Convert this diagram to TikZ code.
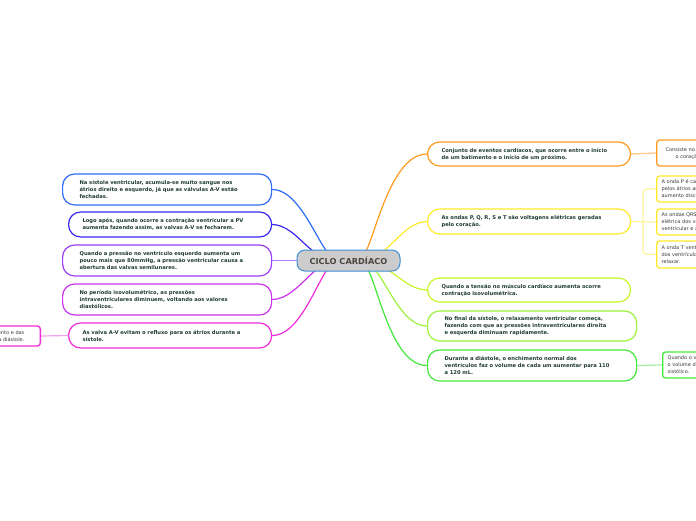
\documentclass[tikz,border=0pt]{standalone}
\usepackage{fontspec}
\setmainfont{DejaVu Sans}
\usetikzlibrary{calc,backgrounds}
\definecolor{txt}{HTML}{1F3B36}
\definecolor{subtxt}{HTML}{3A3A3A}
\definecolor{ctxt}{HTML}{4B4642}
\definecolor{cCenterB}{HTML}{3D8FD6}
\definecolor{cCenterF}{HTML}{CCCCCC}
\definecolor{cBlue}{HTML}{2F6CF5}
\definecolor{cIndigo}{HTML}{3B28F0}
\definecolor{cPurple}{HTML}{9B3DF5}
\definecolor{cPurpleL}{HTML}{AC80FF}
\definecolor{cViolet}{HTML}{CC33EE}
\definecolor{cMagenta}{HTML}{F02BD8}
\definecolor{cMagentaL}{HTML}{F5A0EC}
\definecolor{cOrange}{HTML}{FF9A1F}
\definecolor{cOrangeL}{HTML}{FFC68A}
\definecolor{cYellow}{HTML}{FFEA2A}
\definecolor{cYellowL}{HTML}{FFF3A0}
\definecolor{cLime}{HTML}{C8F52A}
\definecolor{cLGreen}{HTML}{9CF23A}
\definecolor{cGreen}{HTML}{43E83A}
\definecolor{cGreenL}{HTML}{A0F0A0}
\begin{document}
\begin{tikzpicture}[x=1pt,y=-1pt,
  branch/.style={draw, rounded corners=12pt, line width=1.2pt, fill=white,
    font=\bfseries\fontsize{5.2}{7}\selectfont, text=txt, align=left,
    inner ysep=0pt, anchor=west},
  subbox/.style={draw, rounded corners=3pt, line width=1.3pt, fill=white,
    font=\fontsize{5}{7}\selectfont, text=subtxt, align=left,
    inner ysep=0pt, inner xsep=5pt, anchor=west},
  conn/.style={line width=1.2pt},
  subconn/.style={line width=1.2pt}]
\useasboundingbox (0,0) rectangle (696,520);

% central node
\node[draw=cCenterB, fill=cCenterF, rounded corners=8pt, line width=1pt,
  minimum width=103pt, minimum height=21pt, inner sep=0pt,
  font=\bfseries\fontsize{8.2}{9}\selectfont, text=ctxt] (c) at (348.5,260.5) {CICLO CARDÍACO};

% left branches
\node[branch, draw=cBlue, inner xsep=17pt, text width=175pt, minimum height=31pt] (l1) at (62,189.5)
  {Na sístole ventricular, acumula-se muito sangue nos\\átrios direito e esquerdo, já que as válvulas A-V estão\\fechadas.};
\node[branch, draw=cIndigo, inner xsep=14pt, text width=175pt, minimum height=25pt] (l2) at (68,224.5)
  {Logo após, quando ocorre a contração ventricular a PV\\aumenta fazendo assim, as valvas A-V se fecharem.};
\node[branch, draw=cPurple, inner xsep=17pt, text width=175pt, minimum height=31pt] (l3) at (62,260.5)
  {Quando a pressão no ventrículo esquerdo aumenta um\\pouco mais que 80mmHg, a pressão ventricular causa a\\abertura das valvas semilunares.};
\node[branch, draw=cViolet, inner xsep=17pt, text width=175pt, minimum height=31pt] (l4) at (62,299.5)
  {No período isovolumétrico, as pressões\\intraventriculares diminuem, voltando aos valores\\diastólicos.};
\node[branch, draw=cMagenta, inner xsep=14pt, text width=175pt, minimum height=25pt] (l5) at (68,335.5)
  {As valva A-V evitam o refluxo para os átrios durante a\\sístole.};
\node[subbox, draw=cMagenta, anchor=east, align=right, inner xsep=16pt, text width=110pt, minimum height=20pt] (ls) at (41,336)
  {na fase de relaxamento e das\hspace*{6pt}\\dos ventrículos durante a diástole.};

% right branches
\node[branch, draw=cOrange, inner xsep=14pt, text width=175pt, minimum height=24pt] (r1) at (427,154)
  {Conjunto de eventos cardíacos, que ocorre entre o início\\de um batimento e o início de um próximo.};
\node[branch, draw=cYellow, inner xsep=14pt, text width=175pt, minimum height=25pt] (r2) at (427,221.5)
  {As ondas P, Q, R, S e T são voltagens elétricas geradas\\pelo coração.};
\node[branch, draw=cLime, inner xsep=14pt, text width=175pt, minimum height=24pt] (r3) at (427,290)
  {Quando a tensão no músculo cardíaco aumenta ocorre\\contração isovolumétrica.};
\node[branch, draw=cLGreen, inner xsep=17pt, text width=175pt, minimum height=30pt] (r4) at (427,326)
  {No final da sístole, o relaxamento ventricular começa,\\fazendo com que as pressões intraventriculares direita\\e esquerda diminuam rapidamente.};
\node[branch, draw=cGreen, inner xsep=17pt, text width=175pt, minimum height=31pt] (r5) at (427,365.5)
  {Durante a diástole, o enchimento normal dos\\ventrículos faz o volume de cada um aumentar para 110\\a 120 mL.};

% right sub nodes
\node[subbox, draw=cOrange, inner xsep=9pt, text width=100pt, minimum height=26pt] (os) at (656,153)
  {Consiste no período em que\\\hspace*{10pt}o coração contrai e relaxa.};
\node[subbox, draw=cYellow, text width=100pt, minimum height=26pt] (ya) at (656,189)
  {A onda P é causada por potenciais\\pelos átrios antes da contração\\aumento discreto da pressão.};
\node[subbox, draw=cYellow, text width=100pt, minimum height=26pt] (yb) at (656,222)
  {As ondas QRS surgem da atividade\\elétrica dos ventrículos e da\\ventricular e aumento da pressão.};
\node[subbox, draw=cYellow, text width=100pt, minimum height=27pt] (yc) at (656,254.5)
  {A onda T ventricular ocorre quando\\dos ventrículos começam a\\relaxar.};
\node[subbox, draw=cGreen, text width=100pt, minimum height=26pt] (gs) at (662,365)
  {Quando o ventrículo se contrai,\\o volume diminui até o volume\\sistólico.};

\begin{scope}[on background layer]
\fill[white] (0,0) rectangle (696,520);
% left connectors
\draw[conn, cBlue] ($(c.north)+(-5.5,2)$) to[out=-115,in=0] (l1.east);
\draw[conn, cIndigo] ($(c.north)+(-14.5,2)$) to[out=-135,in=0] (l2.east);
\draw[conn, cPurpleL] (c.west) -- (l3.east);
\draw[conn, cViolet] ($(c.south)+(-10.5,-2)$) to[out=130,in=0] (l4.east);
\draw[conn, cMagenta] ($(c.south)+(-5.5,-2)$) to[out=115,in=0] (l5.east);
\draw[subconn, cMagentaL] (l5.west) -- (ls.east);
% right connectors
\draw[conn, cOrange] ($(c.north)+(4.5,2)$) to[out=-72,in=180] (r1.west);
\draw[conn, cYellow] ($(c.north)+(13.5,2)$) to[out=-45,in=180] (r2.west);
\draw[conn, cLime] ($(c.south)+(16.5,-2)$) to[out=35,in=180] (r3.west);
\draw[conn, cLGreen] ($(c.south)+(8.5,-2)$) to[out=55,in=180] (r4.west);
\draw[conn, cGreen] ($(c.south)+(4.5,-2)$) to[out=65,in=180] (r5.west);
% sub connectors
\draw[subconn, cOrangeL] (r1.east) -- (os.west);
\draw[subconn, cYellowL] (r2.east) -- (yb.west);
\draw[subconn, cYellowL, rounded corners=4pt] (ya.west) -- ++(-13,0) |- (yc.west);
\draw[subconn, cGreenL] (r5.east) -- (gs.west);
\end{scope}
\end{tikzpicture}
\end{document}
